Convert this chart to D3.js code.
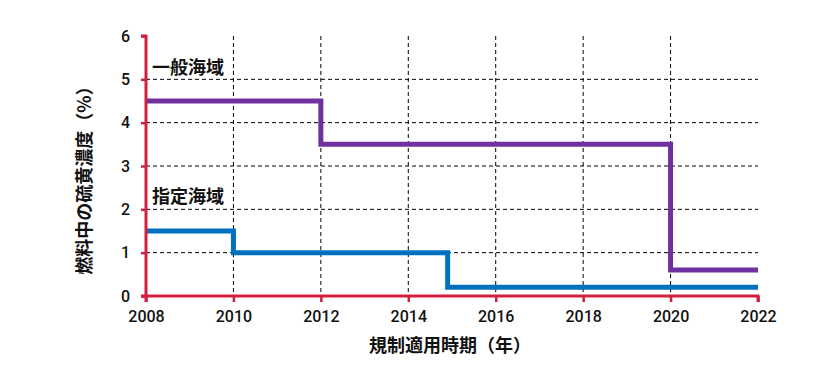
<!DOCTYPE html>
<html><head><meta charset="utf-8">
<script src="https://cdn.jsdelivr.net/npm/d3@7"></script>
<style>
html,body{margin:0;padding:0;background:#fff;}
svg{display:block;font-family:"Liberation Sans",Arial,sans-serif;}
</style></head>
<body>
<svg id="c" width="838" height="381"></svg>
<script>
const xTicks = [2008, 2010, 2012, 2014, 2016, 2018, 2020, 2022];
const yTicks = [0, 1, 2, 3, 4, 5, 6];
const generalYears = [2008, 2012, 2020, 2022];
const generalValues = [4.5, 3.5, 0.6, 0.6];
const designatedYears = [2008, 2010, 2014.9, 2022];
const designatedValues = [1.5, 1.0, 0.2, 0.2];
const seriesNames = ["一般海域", "指定海域"];
const xTitle = "規制適用時期（年）";
const yTitle = "燃料中の硫黄濃度（%）";

const svg = d3.select("#c");
const x = d3.scaleLinear().domain([2008, 2022]).range([146, 758]);
const y = d3.scaleLinear().domain([0, 6]).range([296, 36]);
const red = "#d11f40";

// grid
const g = svg.append("g");
g.selectAll("line.h").data(yTicks.filter(d => d > 0 && d < 6)).join("line")
  .attr("x1", x(2008)).attr("x2", x(2022)).attr("y1", d => y(d)).attr("y2", d => y(d))
  .attr("stroke", "#000").attr("stroke-width", 1).attr("stroke-dasharray", "4,3");
g.selectAll("line.v").data(xTicks.filter(d => d > 2008 && d < 2022)).join("line")
  .attr("x1", d => x(d)).attr("x2", d => x(d)).attr("y1", y(6)).attr("y2", y(0))
  .attr("stroke", "#000").attr("stroke-width", 1).attr("stroke-dasharray", "4,3");

// series
const line = d3.line().x(d => x(d[0])).y(d => y(d[1])).curve(d3.curveStepAfter);
svg.append("path").datum(generalYears.map((d, i) => [d, generalValues[i]]))
  .attr("d", line).attr("fill", "none").attr("stroke", "#7030a0").attr("stroke-width", 5);
svg.append("path").datum(designatedYears.map((d, i) => [d, designatedValues[i]]))
  .attr("d", line).attr("fill", "none").attr("stroke", "#0070c0").attr("stroke-width", 5);

// axes
const xa = svg.append("g").attr("transform", `translate(0,${y(0)})`)
  .call(d3.axisBottom(x).tickValues(xTicks).tickFormat(d3.format("d")).tickSize(6).tickPadding(9));
const ya = svg.append("g").attr("transform", `translate(${x(2008)},0)`)
  .call(d3.axisLeft(y).tickValues(yTicks).tickFormat(d3.format("d")).tickSize(5).tickPadding(11));
[xa, ya].forEach(a => {
  a.select(".domain").attr("stroke", red).attr("stroke-width", 3);
  a.selectAll(".tick line").attr("stroke", red).attr("stroke-width", 2.5);
  a.selectAll(".tick text").attr("fill", "#111").attr("font-size", 16).attr("font-weight", 500)
    .attr("font-family", "Roboto,'Liberation Sans',Arial,sans-serif");
});
xa.select(".domain").attr("d", `M${x(2008)},6V0H${x(2022)}V6`);
ya.select(".domain").attr("d", `M-5,${y(6)}H0V${y(0)}H-5`);

// labels
const jp = "'Noto Sans CJK JP',sans-serif";
svg.append("text").attr("x", 152).attr("y", 74).text(seriesNames[0])
  .attr("font-size", 18).attr("font-weight", "bold").attr("fill", "#111").attr("font-family", jp);
svg.append("text").attr("x", 152).attr("y", 203).text(seriesNames[1])
  .attr("font-size", 18).attr("font-weight", "bold").attr("fill", "#111").attr("font-family", jp);
svg.append("text").attr("x", 450).attr("y", 352).attr("text-anchor", "middle").text(xTitle)
  .attr("font-size", 18).attr("font-weight", "bold").attr("fill", "#111").attr("font-family", jp);
svg.append("text").attr("transform", "translate(91,176) rotate(-90)").attr("text-anchor", "middle").text(yTitle)
  .attr("font-size", 18).attr("font-weight", "bold").attr("fill", "#111").attr("font-family", jp);
</script>
</body></html>
